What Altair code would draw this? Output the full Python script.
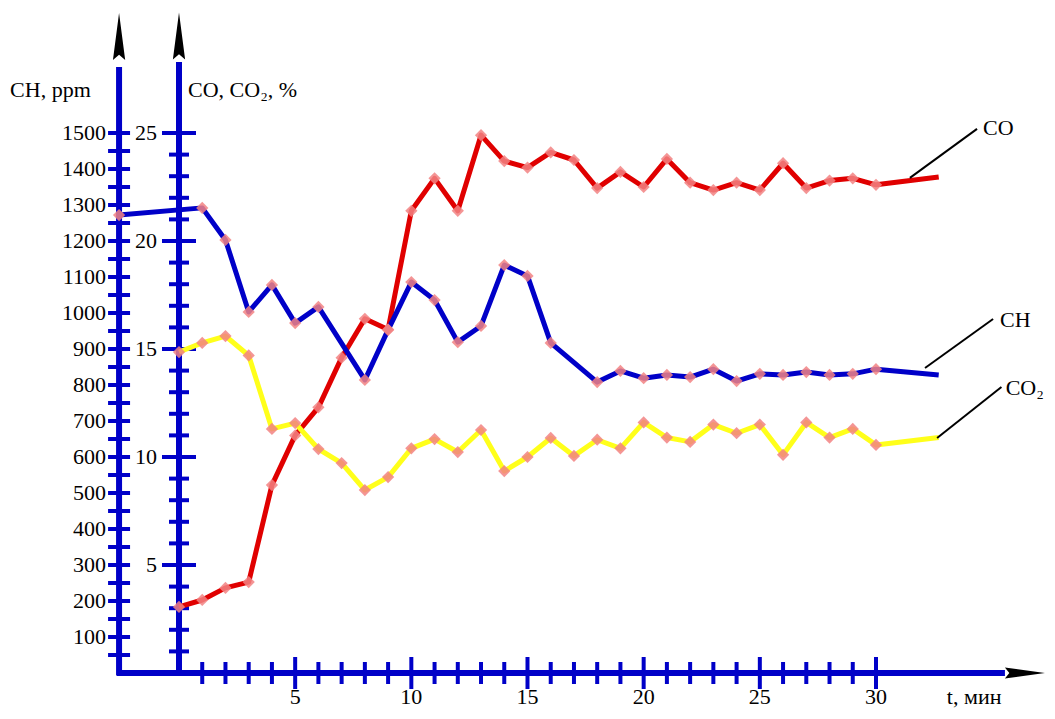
import altair as alt
import pandas as pd

# ---------------- values ----------------
minutes = list(range(0, 31))
t_end = 32.7  # unmarked end of each curve

co_pct = [3.06, 3.38, 3.94, 4.21, 8.70, 11.0, 12.3, 14.6, 16.4, 15.9,
          21.4, 22.9, 21.4, 24.9, 23.7, 23.4, 24.1, 23.75, 22.45, 23.2,
          22.5, 23.8, 22.7, 22.36, 22.7, 22.36, 23.6, 22.45, 22.8, 22.9, 22.6]
co_end = 22.96

co2_pct = [14.86, 15.28, 15.6, 14.7, 11.3, 11.57, 10.37, 9.72, 8.47, 9.07,
           10.4, 10.83, 10.23, 11.25, 9.35, 10.0, 10.88, 10.05, 10.8, 10.4,
           11.6, 10.9, 10.7, 11.5, 11.1, 11.5, 10.1, 11.6, 10.9, 11.3, 10.56]
co2_end = 10.9

ch_t = [-2.58, 1, 2, 3, 4, 5, 6, 8, 9, 10, 11, 12, 13, 14, 15, 16,
        18, 19, 20, 21, 22, 23, 24, 25, 26, 27, 28, 29, 30]
ch_ppm = [1272, 1292, 1203, 1003, 1078, 972, 1017, 814, 953, 1086, 1036, 919,
          964, 1133, 1103, 917, 808, 839, 819, 828, 822, 844, 811, 831, 828,
          836, 828, 831, 844]
ch_end = 828

ch_ticks = list(range(50, 1501, 50))
ch_labels = list(range(100, 1501, 100))
pct_ticks = list(range(1, 26))
pct_labels = [5, 10, 15, 20, 25]
t_ticks = list(range(1, 31))
t_labels = [5, 10, 15, 20, 25, 30]

CH_PER_PCT = 60          # 1500 ppm on the CH axis sits level with 25 %
CH_AXIS_T = -2.58        # the CH axis stands left of t = 0

# ---------------- styles ----------------
BLUE = "#0000c8"
RED = "#e00000"
YELLOW = "#ffff1a"
PINK = "#f28282"
FONT = "Liberation Serif"
FS = 22

W, H = 1039, 703
PX_PER_MIN = 23.233
PX_PER_PCT = 21.6
X0_PX, Y0_PX = 171, 665  # where t=0 / value=0 fall inside the view

xs = alt.Scale(domain=[-X0_PX / PX_PER_MIN, (W - X0_PX) / PX_PER_MIN], nice=False, zero=False)
ys = alt.Scale(domain=[(Y0_PX - H) / PX_PER_PCT, Y0_PX / PX_PER_PCT], nice=False, zero=False)


def X(f="t"):
    return alt.X(f"{f}:Q", scale=xs, axis=None)


def Y(f="v"):
    return alt.Y(f"{f}:Q", scale=ys, axis=None)


# ---------------- tables ----------------
rows = []
for t, v in zip(minutes + [t_end], co_pct + [co_end]):
    rows.append({"series": "CO", "t": t, "v": v, "mark": t <= 30})
for t, v in zip(minutes + [t_end], co2_pct + [co2_end]):
    rows.append({"series": "CO2", "t": t, "v": v, "mark": t <= 30})
for t, v in zip(ch_t + [t_end], ch_ppm + [ch_end]):
    rows.append({"series": "CH", "t": t, "v": v / CH_PER_PCT, "mark": t <= 30})
series = pd.DataFrame(rows)
markers = series[series["mark"]]

axis_lines = pd.DataFrame([
    {"t": CH_AXIS_T, "t2": CH_AXIS_T, "v": -0.12, "v2": 28.06},
    {"t": 0.0, "t2": 0.0, "v": -0.12, "v2": 28.29},
    {"t": -2.67, "t2": 35.55, "v": 0.0, "v2": 0.0},
])

ch_tick_df = pd.DataFrame({"t": CH_AXIS_T, "v": [c / CH_PER_PCT for c in ch_ticks]})
ch_lab_df = pd.DataFrame({"t": CH_AXIS_T, "v": [c / CH_PER_PCT for c in ch_labels],
                          "txt": [str(c) for c in ch_labels]})
pct_tick_df = pd.DataFrame({"t": 0.0, "v": pct_ticks,
                            "major": [p in pct_labels for p in pct_ticks]})
pct_lab_df = pd.DataFrame({"t": 0.0, "v": pct_labels, "txt": [str(p) for p in pct_labels]})
t_tick_df = pd.DataFrame({"t": t_ticks, "v": 0.0, "major": [t in t_labels for t in t_ticks]})
t_lab_df = pd.DataFrame({"t": t_labels, "v": 0.0, "txt": [str(t) for t in t_labels]})

arrows_v = pd.DataFrame({"t": [CH_AXIS_T, 0.0], "v": [29.47, 29.49]})
arrows_h = pd.DataFrame({"t": [36.41], "v": [0.0]})

titles = pd.DataFrame([
    {"t": -7.27, "v": 26.67, "txt": "CH, ppm"},
    {"t": 0.39, "v": 26.67, "txt": "CO, CO₂, %"},
    {"t": 33.05, "v": -1.43, "txt": "t, мин"},
])

callouts = pd.DataFrame([
    {"t": 31.46, "v": 22.92, "t2": 34.35, "v2": 25.19, "lt": 34.61, "lv": 24.91, "txt": "CO"},
    {"t": 32.11, "v": 14.12, "t2": 35.04, "v2": 16.39, "lt": 35.34, "lv": 16.02, "txt": "CH"},
    {"t": 32.63, "v": 10.88, "t2": 35.40, "v2": 13.24, "lt": 35.58, "lv": 12.87, "txt": "CO₂"},
])

# ---------------- layers ----------------
base_axes = alt.Chart(axis_lines).mark_rule(color=BLUE, strokeWidth=6).encode(
    x=X(), x2="t2:Q", y=Y(), y2="v2:Q")

ch_ticks_l = alt.Chart(ch_tick_df).mark_tick(orient="horizontal", size=22, thickness=4,
                                             color=BLUE, opacity=1).encode(x=X(), y=Y())
pct_minor = alt.Chart(pct_tick_df).transform_filter("!datum.major").mark_tick(
    orient="horizontal", size=20, thickness=4, color=BLUE, opacity=1).encode(x=X(), y=Y())
pct_major = alt.Chart(pct_tick_df).transform_filter("datum.major").mark_tick(
    orient="horizontal", size=34, thickness=4, color=BLUE, opacity=1).encode(x=X(), y=Y())
t_minor = alt.Chart(t_tick_df).transform_filter("!datum.major").mark_tick(
    orient="vertical", size=22, thickness=4, color=BLUE, opacity=1).encode(x=X(), y=Y())
t_major = alt.Chart(t_tick_df).transform_filter("datum.major").mark_tick(
    orient="vertical", size=32, thickness=4, color=BLUE, opacity=1).encode(x=X(), y=Y())

arrow_up = alt.Chart(arrows_v).mark_point(
    shape="M0,-1 L0.26,1 L0,0.78 L-0.26,1 Z", size=2209, filled=True,
    color="black", opacity=1, strokeWidth=0).encode(x=X(), y=Y())
arrow_right = alt.Chart(arrows_h).mark_point(
    shape="M1,0 L-1,0.27 L-0.78,0 L-1,-0.27 Z", size=1600, filled=True,
    color="black", opacity=1, strokeWidth=0).encode(x=X(), y=Y())

lines = alt.Chart(series).mark_line(strokeWidth=5, strokeJoin="round").encode(
    x=X(), y=Y(),
    color=alt.Color("series:N", scale=alt.Scale(domain=["CO", "CO2", "CH"],
                                                range=[RED, YELLOW, BLUE]), legend=None),
    order="t:Q")

pts = alt.Chart(markers).mark_point(shape="diamond", filled=True, size=150,
                                    color=PINK, opacity=0.85, strokeWidth=0).encode(
    x=X(), y=Y(), detail="series:N")

txt_kw = dict(font=FONT, fontSize=FS, color="black")
ch_labels_l = alt.Chart(ch_lab_df).mark_text(align="right", baseline="middle", dx=-13,
                                              **txt_kw).encode(x=X(), y=Y(), text="txt:N")
pct_labels_l = alt.Chart(pct_lab_df).mark_text(align="right", baseline="middle", dx=-22,
                                                **txt_kw).encode(x=X(), y=Y(), text="txt:N")
t_labels_l = alt.Chart(t_lab_df).mark_text(align="center", baseline="alphabetic", dy=31,
                                            **txt_kw).encode(x=X(), y=Y(), text="txt:N")
titles_l = alt.Chart(titles).mark_text(align="left", baseline="alphabetic",
                                        **txt_kw).encode(x=X(), y=Y(), text="txt:N")

leaders = alt.Chart(callouts).mark_rule(color="black", strokeWidth=2).encode(
    x=X(), x2="t2:Q", y=Y(), y2="v2:Q")
callout_txt = alt.Chart(callouts).mark_text(align="left", baseline="alphabetic",
                                            **txt_kw).encode(
    x=X("lt"), y=Y("lv"), text="txt:N")

chart = alt.layer(
    base_axes, ch_ticks_l, pct_minor, pct_major, t_minor, t_major,
    arrow_up, arrow_right, lines, pts,
    ch_labels_l, pct_labels_l, t_labels_l, titles_l, leaders, callout_txt,
).properties(
    width=W, height=H, padding=0,
    autosize=alt.AutoSizeParams(type="none"),
    background="white",
).configure_view(stroke=None)

chart.save("out.html", embed_options={"renderer": "svg", "actions": False})
